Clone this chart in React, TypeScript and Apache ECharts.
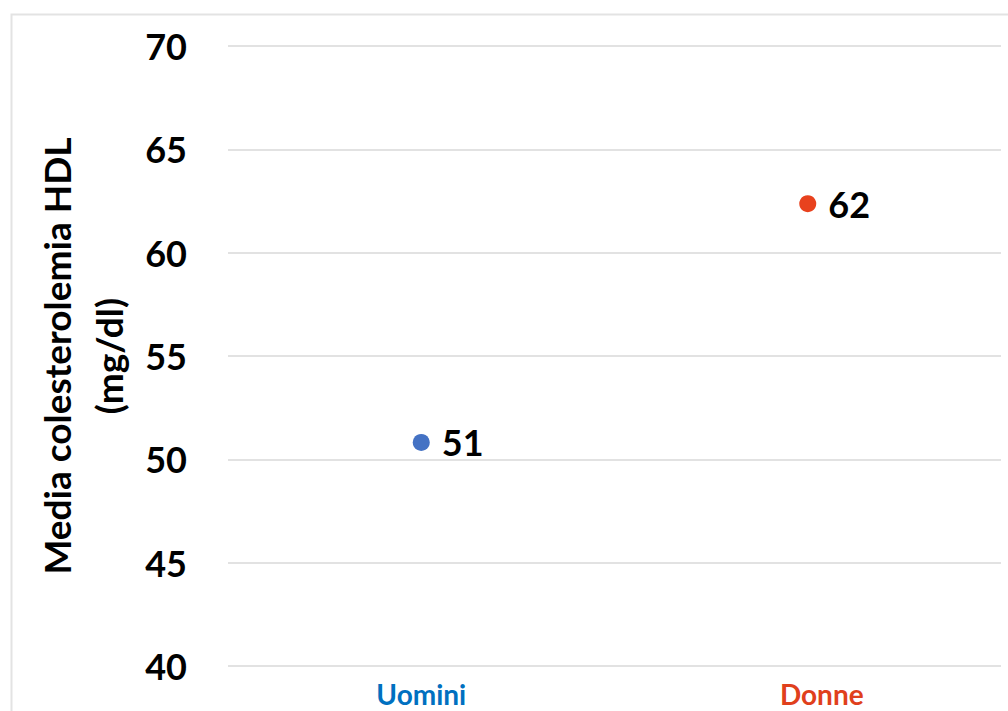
import React, { useEffect, useRef } from "react";
import * as echarts from "echarts";

const categories = ["Uomini", "Donne"];
const values = [50.82, 62.37];
const pointColors = ["#4472C4", "#E8421E"];
const labelColors = ["#0070C0", "#E0401C"];
const yMin = 40;
const yMax = 70;
const yStep = 5;
const yTitle = "Media colesterolemia HDL\n(mg/dl)";

const FONT = "Lato, 'Open Sans', sans-serif";

export default function App() {
  const ref = useRef<HTMLDivElement>(null);
  useEffect(() => {
    if (!ref.current) return;
    const chart = echarts.init(ref.current, null, { renderer: "svg" });
    chart.setOption({
      animation: false,
      backgroundColor: "#ffffff",
      textStyle: { fontFamily: FONT },
      graphic: [
        {
          type: "rect",
          shape: { x: 11.5, y: 14.5, width: 1010, height: 720 },
          style: { fill: "none", stroke: "#e3e3e3", lineWidth: 2 },
          silent: true,
          z: -1,
        },
      ],
      grid: { left: 228, right: 7, top: 46, bottom: 45, containLabel: false },
      xAxis: {
        type: "category",
        data: categories,
        boundaryGap: true,
        axisLine: { show: false },
        axisTick: { show: false },
        axisLabel: {
          margin: 14,
          formatter: (v: string) => (v === categories[0] ? `{a|${v}}` : `{b|${v}}`),
          rich: {
            a: { color: labelColors[0], fontSize: 28, lineHeight: 28, fontWeight: "bold", fontFamily: FONT },
            b: {
              color: labelColors[1],
              fontSize: 28,
              lineHeight: 28,
              fontWeight: "bold",
              fontFamily: FONT,
              padding: [0, 0, 0, 28],
            },
          },
        },
      },
      yAxis: {
        type: "value",
        min: yMin,
        max: yMax,
        interval: yStep,
        name: yTitle,
        nameLocation: "middle",
        nameGap: 94,
        nameTextStyle: {
          fontSize: 37,
          fontWeight: "bold",
          color: "#000",
          fontFamily: FONT,
          lineHeight: 52,
        },
        axisLine: { show: false },
        axisTick: { show: false },
        axisLabel: {
          margin: 41,
          fontSize: 36,
          fontWeight: "bold",
          color: "#000",
          fontFamily: FONT,
        },
        splitLine: { lineStyle: { color: "#d9d9d9", width: 1.5 } },
      },
      series: [
        {
          type: "scatter",
          data: values.map((v, i) => ({
            value: v,
            itemStyle: { color: pointColors[i], opacity: 1 },
          })),
          symbolSize: 17,
          itemStyle: { opacity: 1 },
          label: {
            show: true,
            position: "right",
            distance: 12,
            formatter: (p: any) => String(Math.round(p.value)),
            fontSize: 36,
            fontWeight: "bold",
            color: "#000",
            fontFamily: FONT,
          },
        },
      ],
    });
    return () => chart.dispose();
  }, []);
  return (
    <div
      ref={ref}
      style={{ position: "absolute", left: 0, top: 0, width: 1008, height: 711 }}
    />
  );
}
